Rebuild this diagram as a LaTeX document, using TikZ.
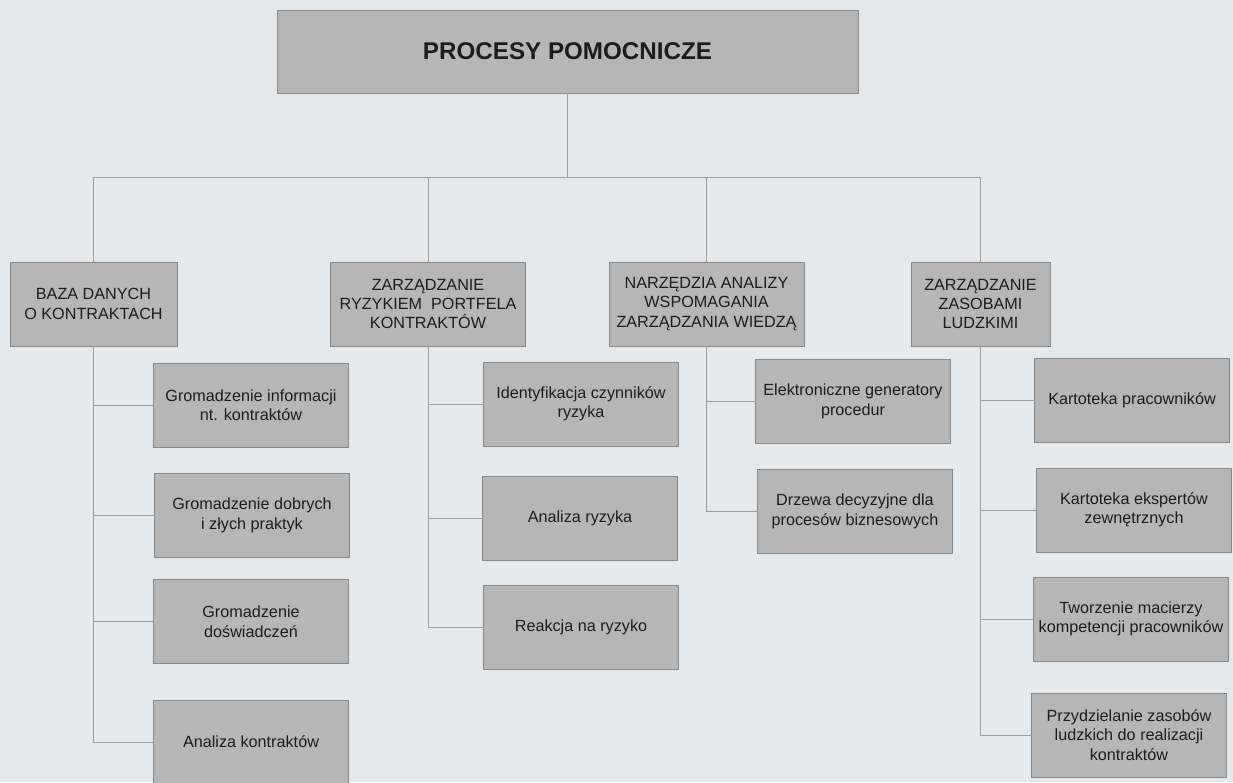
\documentclass[tikz,border=0pt]{standalone}
\usepackage{fontspec}
\setmainfont{Liberation Sans}
\begin{document}
\begin{tikzpicture}[x=1pt,y=-1pt,
  every node/.style={inner sep=0pt, outer sep=0pt},
  box/.style={rectangle, draw=boxline, line width=0.8pt, fill=boxfill,
    text=ink, align=center, minimum height=84pt,
    font=\fontsize{16.2}{19.4}\selectfont},
  headbox/.style={box, minimum width=581pt, minimum height=83pt,
    font=\fontsize{24.2}{29}\selectfont\bfseries},
  subbox/.style={box, minimum width=195pt},
  link/.style={draw=linkgray, line width=0.8pt}]
\definecolor{paper}{HTML}{E6E9EC}
\definecolor{boxfill}{HTML}{B6B6B6}
\definecolor{boxline}{HTML}{888888}
\definecolor{linkgray}{HTML}{9C9C9C}
\definecolor{ink}{HTML}{1C1C1C}

% page
\fill[paper] (0,0) rectangle (1233,782);
\useasboundingbox (0,0) rectangle (1233,782);

% root
\node[headbox] (root) at (567.5,51.5) {PROCESY POMOCNICZE};

% second level
\node[box, minimum width=167pt] (baza) at (93.5,304) {BAZA DANYCH\\O KONTRAKTACH};
\node[box, minimum width=195pt] (ryzyko) at (428,304) {ZARZĄDZANIE\\RYZYKIEM\ \ PORTFELA\\KONTRAKTÓW};
\node[box, minimum width=195pt] (narz) at (706.5,304) {NARZĘDZIA ANALIZY\\WSPOMAGANIA\\ZARZĄDZANIA WIEDZĄ};
\node[box, minimum width=139pt] (zasoby) at (980.5,304) {ZARZĄDZANIE\\ZASOBAMI\\LUDZKIMI};

% first column
\node[subbox] (b1) at (251,405.5) {Gromadzenie informacji\\nt. kontraktów};
\node[subbox] (b2) at (252,515.5) {Gromadzenie dobrych\\i złych praktyk};
\node[subbox] (b3) at (251,621.5) {Gromadzenie\\doświadczeń};
\node[subbox] (b4) at (251,742) {Analiza kontraktów};

% second column
\node[subbox] (r1) at (581,404) {Identyfikacja czynników\\ryzyka};
\node[subbox] (r2) at (580,518.5) {Analiza ryzyka};
\node[subbox] (r3) at (581,627.5) {Reakcja na ryzyko};

% third column
\node[subbox] (n1) at (853,401.5) {Elektroniczne generatory\\procedur};
\node[subbox] (n2) at (855,511.5) {Drzewa decyzyjne dla\\procesów biznesowych};

% fourth column
\node[subbox] (z1) at (1132,400) {Kartoteka pracowników};
\node[subbox] (z2) at (1134,510) {Kartoteka ekspertów\\zewnętrznych};
\node[subbox] (z3) at (1131,619) {Tworzenie macierzy\\kompetencji pracowników};
\node[subbox] (z4) at (1129,735) {Przydzielanie zasobów\\ludzkich do realizacji\\kontraktów};

% bus under the root
\coordinate (bus) at (0,177);
\draw[link] (root.south) -- (root.south |- bus);
\draw[link] (baza.north) -- (baza.north |- bus) -| (zasoby.north);
\draw[link] (ryzyko.north) -- (ryzyko.north |- bus);
\draw[link] (narz.north) -- (narz.north |- bus);

% branches down to the sub-processes
\draw[link] (baza.south) |- (b4.west);
\foreach \c in {b1,b2,b3} \draw[link] (\c.west) -- (baza.south |- \c.west);
\draw[link] (ryzyko.south) |- (r3.west);
\foreach \c in {r1,r2} \draw[link] (\c.west) -- (ryzyko.south |- \c.west);
\draw[link] (narz.south) |- (n2.west);
\draw[link] (n1.west) -- (narz.south |- n1.west);
\draw[link] (zasoby.south) |- (z4.west);
\foreach \c in {z1,z2,z3} \draw[link] (\c.west) -- (zasoby.south |- \c.west);
\end{tikzpicture}
\end{document}
